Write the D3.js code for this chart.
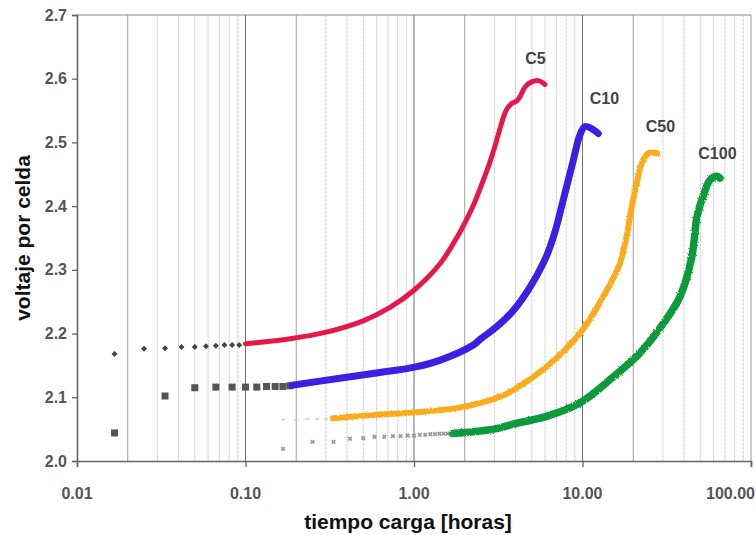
<!DOCTYPE html>
<html>
<head>
<meta charset="utf-8">
<script src="https://cdn.jsdelivr.net/npm/d3@7"></script>
<style>
  body { margin: 0; background: #fff; }
  text { font-family: "Liberation Sans", Arial, sans-serif; }
</style>
</head>
<body>
<script>
var width = 756, height = 535;
var margin = {top: 15, right: 5, bottom: 74, left: 77};

// hours / volts
var c5DotT = [0.0167, 0.025, 0.0333, 0.0417, 0.05, 0.0583, 0.0667, 0.075, 0.0833, 0.0917];
var c5DotV = [2.168, 2.176, 2.177, 2.179, 2.179, 2.180, 2.181, 2.182, 2.182, 2.182];
var c5T = [0.1, 0.184, 0.288, 0.5, 0.72, 1.0, 1.43, 1.79, 2.06, 2.3, 2.47, 2.64, 2.82, 3.03, 3.24, 3.39, 3.55, 3.8, 4.07, 4.26, 4.56, 4.99, 5.47, 5.99];
var c5V = [2.184, 2.192, 2.201, 2.220, 2.241, 2.268, 2.310, 2.350, 2.380, 2.407, 2.428, 2.448, 2.469, 2.495, 2.522, 2.539, 2.552, 2.561, 2.565, 2.572, 2.587, 2.595, 2.597, 2.591];

var c10DotT = [0.0167, 0.0333, 0.05, 0.0667, 0.0833, 0.1, 0.1167, 0.1333, 0.15, 0.1667, 0.1833];
var c10DotV = [2.044, 2.102, 2.115, 2.116, 2.116, 2.116, 2.116, 2.117, 2.117, 2.117, 2.118];
var c10T = [0.189, 0.363, 0.627, 0.99, 1.42, 2.25, 2.47, 3.10, 3.88, 4.88, 6.12, 6.87, 7.69, 8.82, 9.66, 10.35, 11.6, 12.4];
var c10V = [2.119, 2.130, 2.139, 2.147, 2.158, 2.182, 2.191, 2.211, 2.236, 2.273, 2.322, 2.360, 2.410, 2.472, 2.512, 2.525, 2.520, 2.514];

var c50DotT = [0.167, 0.2, 0.233, 0.267, 0.3];
var c50DotV = [2.065, 2.065, 2.066, 2.066, 2.066];
var c50T = [0.33, 0.57, 0.99, 1.79, 2.47, 3.24, 3.88, 6.12, 9.63, 13.2, 16.7, 17.5, 18.6, 19.1, 21.0, 22.4, 24.6, 27.8];
var c50V = [2.067, 2.072, 2.076, 2.083, 2.091, 2.101, 2.111, 2.148, 2.200, 2.257, 2.310, 2.331, 2.363, 2.383, 2.436, 2.467, 2.483, 2.483];

var c100DotT = [0.167, 0.25, 0.333, 0.417, 0.5, 0.583, 0.667, 0.75, 0.833, 0.917, 1.0, 1.083, 1.167, 1.25, 1.333, 1.417, 1.5, 1.583];
var c100DotV = [2.019, 2.030, 2.030, 2.035, 2.036, 2.038, 2.038, 2.039, 2.039, 2.040, 2.040, 2.041, 2.041, 2.042, 2.042, 2.043, 2.043, 2.043];
var c100T = [1.70, 2.47, 3.24, 3.88, 6.12, 9.63, 15.2, 21.8, 30.2, 37.9, 44.5, 47.8, 51.9, 57.1, 62.8, 65.4];
var c100V = [2.043, 2.047, 2.052, 2.058, 2.070, 2.091, 2.132, 2.169, 2.216, 2.258, 2.320, 2.383, 2.415, 2.441, 2.447, 2.444];

var labels = ["C5", "C10", "C50", "C100"];
var labelT = [5.26, 13.5, 29.0, 63.2];
var labelV = [2.623, 2.560, 2.516, 2.474];

var xTicks = [0.01, 0.1, 1, 10, 100];
var xTickLabels = ["0.01", "0.10", "1.00", "10.00", "100.00"];
var yTicks = [2.0, 2.1, 2.2, 2.3, 2.4, 2.5, 2.6, 2.7];

var x = d3.scaleLog().domain([0.01, 100]).range([margin.left, width - margin.right]);
var y = d3.scaleLinear().domain([2.0, 2.7]).range([height - margin.bottom, margin.top]);

var svg = d3.select("body").append("svg")
    .attr("width", width)
    .attr("height", height);

var defs = svg.append("defs");
var rough = defs.append("filter").attr("id", "rough")
    .attr("x", "-5%").attr("y", "-5%").attr("width", "110%").attr("height", "110%");
rough.append("feTurbulence").attr("type", "fractalNoise").attr("baseFrequency", 0.6).attr("numOctaves", 2).attr("result", "n");
rough.append("feDisplacementMap").attr("in", "SourceGraphic").attr("in2", "n").attr("scale", 2.5);

// vertical grid (log minor lines)
var grid = [];
for (var e = -2; e < 2; e++) {
    for (var m = 1; m < 10; m++) grid.push({v: m * Math.pow(10, e), m: m});
}
svg.append("g").selectAll("line")
    .data(grid.filter(function(d) { return d.v > 0.01; }))
    .enter().append("line")
    .attr("x1", function(d) { return x(d.v); })
    .attr("x2", function(d) { return x(d.v); })
    .attr("y1", y(2.7))
    .attr("y2", y(2.0))
    .attr("stroke", function(d) { return d.m == 1 ? "#707070" : (d.m == 2 ? "#a0a0a0" : "#cfcfcf"); })
    .attr("stroke-width", 1)
    .attr("stroke-dasharray", function(d) { return d.m > 2 ? "3,1" : null; });

// frame
svg.append("line").attr("x1", x(0.01)).attr("x2", x(100)).attr("y1", y(2.7)).attr("y2", y(2.7))
    .attr("stroke", "#888").attr("stroke-width", 1.2);
svg.append("line").attr("x1", x(100)).attr("x2", x(100)).attr("y1", y(2.7)).attr("y2", y(2.0))
    .attr("stroke", "#999").attr("stroke-width", 1);

var xAxis = d3.axisBottom(x).tickValues(xTicks).tickSize(6).tickFormat("");
svg.append("g")
    .attr("transform", "translate(0," + y(2.0) + ")")
    .call(xAxis)
    .call(function(g) {
        g.select(".domain").attr("stroke", "#666").attr("stroke-width", 1.6);
        g.selectAll(".tick line").attr("stroke", "#666").attr("stroke-width", 1.3);
    });

var yAxis = d3.axisLeft(y).tickValues(yTicks).tickSize(5).tickFormat(d3.format(".1f"));
svg.append("g")
    .attr("transform", "translate(" + x(0.01) + ",0)")
    .call(yAxis)
    .call(function(g) {
        g.select(".domain").attr("stroke", "#666").attr("stroke-width", 1.6);
        g.selectAll(".tick line").attr("stroke", "#666").attr("stroke-width", 1.3);
        g.selectAll(".tick text")
            .attr("x", -10)
            .style("font-family", "'Liberation Sans', Arial, sans-serif")
            .style("font-size", "16px")
            .style("font-weight", "bold")
            .attr("fill", "#555");
    });

svg.append("g").selectAll("text")
    .data(xTicks)
    .enter().append("text")
    .attr("x", function(d, i) { return i == xTicks.length - 1 ? width - 1 : x(d); })
    .attr("y", 499)
    .attr("text-anchor", function(d, i) { return i == xTicks.length - 1 ? "end" : "middle"; })
    .attr("font-size", 16)
    .attr("font-weight", "bold")
    .attr("fill", "#555")
    .text(function(d, i) { return xTickLabels[i]; });

// axis titles
svg.append("text")
    .attr("x", 408)
    .attr("y", 529)
    .attr("text-anchor", "middle")
    .attr("font-size", 21)
    .attr("font-weight", "bold")
    .attr("fill", "#111")
    .text("tiempo carga [horas]");

svg.append("text")
    .attr("transform", "translate(30,238) rotate(-90)")
    .attr("text-anchor", "middle")
    .attr("font-size", 21)
    .attr("font-weight", "bold")
    .attr("fill", "#111")
    .text("voltaje por celda");

function pts(t, v) {
    return t.map(function(d, i) { return [d, v[i]]; });
}

var line = d3.line()
    .x(function(d) { return x(d[0]); })
    .y(function(d) { return y(d[1]); })
    .curve(d3.curveCatmullRom.alpha(0.5));

var series = [
    {t: c5T, v: c5V, color: "#e8174b", w: 5, rough: false},
    {t: c10T, v: c10V, color: "#3b1fe3", w: 7, rough: false},
    {t: c50T, v: c50V, color: "#fcab1c", w: 6, rough: true},
    {t: c100T, v: c100V, color: "#0f9a3b", w: 7.5, rough: true}
];

// early readings drawn as grey markers
var sym = d3.symbol();
svg.append("g").selectAll("path")
    .data(pts(c5DotT, c5DotV))
    .enter().append("path")
    .attr("transform", function(d) { return "translate(" + x(d[0]) + "," + y(d[1]) + ") rotate(45)"; })
    .attr("d", sym.type(d3.symbolSquare).size(18)())
    .attr("fill", "#444");

svg.append("g").selectAll("rect")
    .data(pts(c10DotT, c10DotV))
    .enter().append("rect")
    .attr("x", function(d) { return x(d[0]) - 3.5; })
    .attr("y", function(d) { return y(d[1]) - 3.5; })
    .attr("width", 7)
    .attr("height", 7)
    .attr("fill", "#555");

svg.append("g").selectAll("line")
    .data(pts(c50DotT, c50DotV))
    .enter().append("line")
    .attr("x1", function(d) { return x(d[0]) - 2; })
    .attr("x2", function(d) { return x(d[0]) + 2; })
    .attr("y1", function(d) { return y(d[1]); })
    .attr("y2", function(d) { return y(d[1]); })
    .attr("stroke", "#d0d0d0")
    .attr("stroke-width", 1.5);

svg.append("g").selectAll("path")
    .data(pts(c100DotT, c100DotV))
    .enter().append("path")
    .attr("transform", function(d) { return "translate(" + x(d[0]) + "," + y(d[1]) + ") rotate(45)"; })
    .attr("d", sym.type(d3.symbolCross).size(14)())
    .attr("fill", "#999");

series.forEach(function(s) {
    svg.append("path")
        .datum(pts(s.t, s.v))
        .attr("d", line)
        .attr("fill", "none")
        .attr("stroke", s.color)
        .attr("stroke-width", s.w)
        .attr("stroke-linecap", "round")
        .attr("stroke-linejoin", "round")
        .attr("filter", s.rough ? "url(#rough)" : null);
});

svg.append("g").selectAll("text")
    .data(labels)
    .enter().append("text")
    .attr("x", function(d, i) { return x(labelT[i]); })
    .attr("y", function(d, i) { return y(labelV[i]); })
    .attr("text-anchor", "middle")
    .attr("font-size", 16)
    .attr("font-weight", "bold")
    .attr("fill", "#444")
    .text(function(d) { return d; });
</script>
</body>
</html>
